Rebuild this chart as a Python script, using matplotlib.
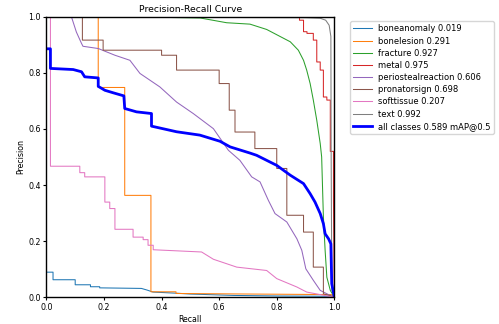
import matplotlib
matplotlib.use('Agg')
import matplotlib.pyplot as plt

# recall / precision vertices (steps = repeated x)
boneanomaly_r = [0.0, 0.023, 0.023, 0.10, 0.10, 0.153, 0.153, 0.185, 0.185, 0.33, 0.35, 0.37, 0.45, 0.5, 0.65, 0.8, 0.99, 1.0]
boneanomaly_p = [0.089, 0.089, 0.062, 0.062, 0.044, 0.044, 0.037, 0.037, 0.033, 0.031, 0.025, 0.018, 0.014, 0.011, 0.006, 0.004, 0.003, 0.0]

bonelesion_r = [0.0, 0.18, 0.18, 0.272, 0.272, 0.363, 0.363, 0.45, 0.45, 0.7, 0.99, 1.0]
bonelesion_p = [1.0, 1.0, 0.748, 0.748, 0.363, 0.363, 0.019, 0.019, 0.013, 0.011, 0.009, 0.0]

fracture_r = [0.0, 0.3, 0.534, 0.626, 0.707, 0.765, 0.847, 0.875, 0.893, 0.904, 0.916, 0.927, 0.939, 0.951, 0.956, 0.962, 0.968, 0.974, 0.986, 1.0]
fracture_p = [1.0, 1.0, 0.996, 0.979, 0.974, 0.955, 0.911, 0.881, 0.845, 0.81, 0.762, 0.703, 0.631, 0.548, 0.5, 0.286, 0.167, 0.071, 0.024, 0.0]

metal_r = [0.0, 0.879, 0.879, 0.893, 0.893, 0.905, 0.905, 0.927, 0.927, 0.939, 0.939, 0.951, 0.951, 0.962, 0.962, 0.974, 0.974, 0.986, 0.986, 0.997, 0.997, 1.0]
metal_p = [1.0, 1.0, 0.988, 0.988, 0.947, 0.947, 0.941, 0.941, 0.917, 0.917, 0.839, 0.839, 0.81, 0.81, 0.714, 0.714, 0.703, 0.703, 0.52, 0.52, 0.345, 0.0]

perio_r = [0.0, 0.087, 0.104, 0.122, 0.127, 0.18, 0.238, 0.29, 0.325, 0.394, 0.452, 0.51, 0.58, 0.632, 0.672, 0.713, 0.742, 0.771, 0.794, 0.835, 0.87, 0.887, 0.901, 0.927, 0.951, 0.997]
perio_p = [1.0, 1.0, 0.946, 0.905, 0.895, 0.887, 0.863, 0.845, 0.798, 0.75, 0.696, 0.655, 0.601, 0.524, 0.488, 0.429, 0.411, 0.345, 0.298, 0.268, 0.208, 0.167, 0.101, 0.06, 0.024, 0.0]

pronator_r = [0.0, 0.125, 0.125, 0.197, 0.197, 0.4, 0.4, 0.452, 0.452, 0.6, 0.6, 0.635, 0.635, 0.655, 0.655, 0.724, 0.724, 0.8, 0.8, 0.835, 0.835, 0.893, 0.893, 0.927, 0.927, 0.962, 0.962, 1.0]
pronator_p = [1.0, 1.0, 0.917, 0.917, 0.881, 0.881, 0.863, 0.863, 0.81, 0.81, 0.762, 0.762, 0.667, 0.667, 0.589, 0.589, 0.53, 0.53, 0.459, 0.459, 0.292, 0.292, 0.232, 0.232, 0.107, 0.107, 0.012, 0.0]

soft_r = [0.0, 0.014, 0.014, 0.116, 0.116, 0.133, 0.133, 0.203, 0.203, 0.22, 0.22, 0.238, 0.238, 0.301, 0.301, 0.336, 0.336, 0.353, 0.353, 0.371, 0.371, 0.539, 0.58, 0.609, 0.661, 0.765, 0.8, 0.87, 0.904, 0.997]
soft_p = [1.0, 1.0, 0.467, 0.467, 0.444, 0.444, 0.429, 0.429, 0.339, 0.339, 0.316, 0.316, 0.242, 0.242, 0.214, 0.214, 0.205, 0.205, 0.185, 0.185, 0.169, 0.161, 0.135, 0.125, 0.107, 0.095, 0.066, 0.036, 0.018, 0.0]

text_r = [0.0, 0.9, 0.951, 0.97, 0.982, 0.988, 0.989, 0.991, 0.992, 1.0]
text_p = [1.0, 0.997, 0.995, 0.988, 0.97, 0.93, 0.5, 0.1, 0.024, 0.0]

all_r = [0.0, 0.014, 0.014, 0.093, 0.122, 0.133, 0.18, 0.18, 0.203, 0.232, 0.269, 0.272, 0.313, 0.365, 0.365, 0.452, 0.533, 0.603, 0.638, 0.707, 0.73, 0.8, 0.847, 0.893, 0.916, 0.933, 0.951, 0.962, 0.968, 0.98, 0.988, 0.991, 1.0]
all_p = [0.886, 0.886, 0.816, 0.812, 0.804, 0.786, 0.782, 0.752, 0.738, 0.729, 0.718, 0.673, 0.661, 0.655, 0.61, 0.59, 0.578, 0.556, 0.536, 0.514, 0.506, 0.47, 0.435, 0.405, 0.369, 0.339, 0.298, 0.262, 0.226, 0.208, 0.19, 0.048, 0.0]

names = ['boneanomaly', 'bonelesion', 'fracture', 'metal', 'periostealreaction',
         'pronatorsign', 'softtissue', 'text']
ap = [0.019, 0.291, 0.927, 0.975, 0.606, 0.698, 0.207, 0.992]
curves_r = [boneanomaly_r, bonelesion_r, fracture_r, metal_r, perio_r, pronator_r, soft_r, text_r]
curves_p = [boneanomaly_p, bonelesion_p, fracture_p, metal_p, perio_p, pronator_p, soft_p, text_p]
map50 = 0.589

# the reference is a shrunken big figure, so every size is scaled down
s = 0.555
plt.rcParams.update({
    'font.size': 5.7,
    'axes.linewidth': 1.0,
    'xtick.major.size': 3.5 * s, 'ytick.major.size': 3.5 * s,
    'xtick.major.pad': 3.5 * s, 'ytick.major.pad': 3.5 * s,
    'xtick.major.width': 0.8, 'ytick.major.width': 0.8,
    'axes.labelpad': 4 * s, 'axes.titlepad': 6 * s,
})

fig = plt.figure(figsize=(4.99, 3.24), dpi=100)
ax = fig.add_axes([0.093, 0.083, 0.577, 0.865])

for i in range(len(names)):
    ax.plot(curves_r[i], curves_p[i], linewidth=0.75, color='C%d' % i,
            label='%s %.3f' % (names[i], ap[i]))
ax.plot(all_r, all_p, linewidth=2.0, color='blue', label='all classes %.3f mAP@0.5' % map50)

ax.set_xlim(0, 1)
ax.set_ylim(0, 1)
ax.set_xlabel('Recall')
ax.set_ylabel('Precision')
ax.set_title('Precision-Recall Curve', fontsize=6.65)
ax.legend(bbox_to_anchor=(1.04, 1), loc='upper left', fontsize=6.0,
          labelspacing=0.38, handlelength=2.2, handletextpad=0.72)

fig.savefig('out.png')
